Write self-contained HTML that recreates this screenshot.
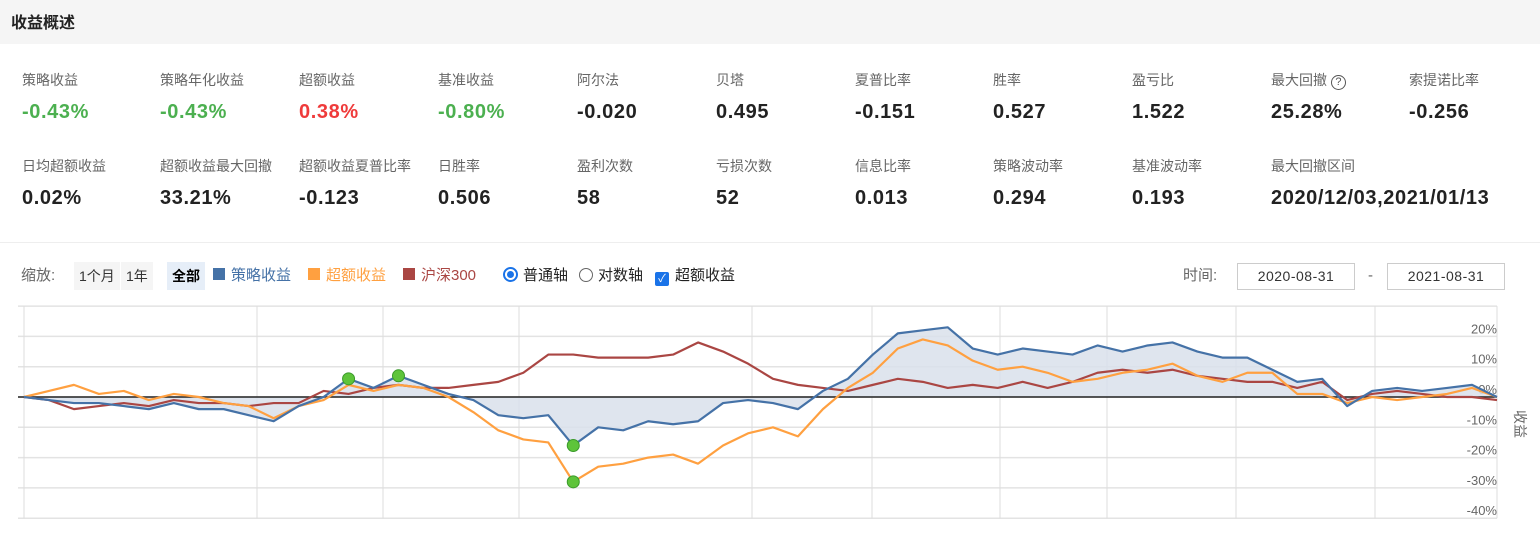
<!DOCTYPE html>
<html><head><meta charset="utf-8">
<style>
body{margin:0;width:1540px;height:540px;background:#fff;font-family:"Liberation Sans","Noto Sans CJK SC",sans-serif;position:relative;overflow:hidden;color:#333}
.hdr{position:absolute;left:0;top:0;width:1540px;height:44px;background:#f5f5f5}
.hdr span{position:absolute;left:11px;top:9px;font-size:16px;font-weight:bold;color:#222}
.m{position:absolute;width:139px}
.m .l{font-size:14px;color:#666;height:20px}
.m .v{font-size:20px;font-weight:bold;color:#222;margin-top:11px;white-space:nowrap;letter-spacing:0.6px}
.g{color:#4cb050!important}.r{color:#ef3b3b!important}
.sep{position:absolute;left:0;top:242px;width:1540px;height:1px;background:#eee}
.tb{position:absolute;top:263px;font-size:15px;line-height:26px;white-space:nowrap}
.btn{position:absolute;top:262px;height:28px;line-height:28px;font-size:14px;background:#f5f5f5;padding:0 5px}
.date{position:absolute;top:263px;width:116px;height:25px;border:1px solid #ccc;font-size:14px;line-height:25px;text-align:center;color:#333;letter-spacing:0.5px}
</style></head><body>
<div class="hdr"><span>收益概述</span></div>

<div class="m" style="left:22px;top:70px"><div class="l">策略收益</div><div class="v g">-0.43%</div></div>
<div class="m" style="left:160px;top:70px"><div class="l">策略年化收益</div><div class="v g">-0.43%</div></div>
<div class="m" style="left:299px;top:70px"><div class="l">超额收益</div><div class="v r">0.38%</div></div>
<div class="m" style="left:438px;top:70px"><div class="l">基准收益</div><div class="v g">-0.80%</div></div>
<div class="m" style="left:577px;top:70px"><div class="l">阿尔法</div><div class="v">-0.020</div></div>
<div class="m" style="left:716px;top:70px"><div class="l">贝塔</div><div class="v">0.495</div></div>
<div class="m" style="left:855px;top:70px"><div class="l">夏普比率</div><div class="v">-0.151</div></div>
<div class="m" style="left:993px;top:70px"><div class="l">胜率</div><div class="v">0.527</div></div>
<div class="m" style="left:1132px;top:70px"><div class="l">盈亏比</div><div class="v">1.522</div></div>
<div class="m" style="left:1271px;top:70px"><div class="l">最大回撤 <span style="display:inline-block;width:13px;height:13px;border:1.5px solid #555;border-radius:50%;font-size:11px;line-height:13px;text-align:center;color:#555">?</span></div><div class="v">25.28%</div></div>
<div class="m" style="left:1409px;top:70px"><div class="l">索提诺比率</div><div class="v">-0.256</div></div>

<div class="m" style="left:22px;top:156px"><div class="l">日均超额收益</div><div class="v">0.02%</div></div>
<div class="m" style="left:160px;top:156px"><div class="l">超额收益最大回撤</div><div class="v">33.21%</div></div>
<div class="m" style="left:299px;top:156px"><div class="l">超额收益夏普比率</div><div class="v">-0.123</div></div>
<div class="m" style="left:438px;top:156px"><div class="l">日胜率</div><div class="v">0.506</div></div>
<div class="m" style="left:577px;top:156px"><div class="l">盈利次数</div><div class="v">58</div></div>
<div class="m" style="left:716px;top:156px"><div class="l">亏损次数</div><div class="v">52</div></div>
<div class="m" style="left:855px;top:156px"><div class="l">信息比率</div><div class="v">0.013</div></div>
<div class="m" style="left:993px;top:156px"><div class="l">策略波动率</div><div class="v">0.294</div></div>
<div class="m" style="left:1132px;top:156px"><div class="l">基准波动率</div><div class="v">0.193</div></div>
<div class="m" style="left:1271px;top:156px;width:260px"><div class="l">最大回撤区间</div><div class="v">2020/12/03,2021/01/13</div></div>

<div class="sep"></div>

<div class="tb" style="left:21px;color:#666">缩放:</div>
<div class="btn" style="left:74px">1个月</div>
<div class="btn" style="left:121px">1年</div>
<div class="btn" style="left:167px;background:#e6eef8;font-weight:bold;color:#000">全部</div>
<div class="tb" style="left:213px;color:#4572a7"><span style="display:inline-block;width:12px;height:12px;background:#4572a7;margin-right:6px"></span>策略收益</div>
<div class="tb" style="left:308px;color:#ffa040"><span style="display:inline-block;width:12px;height:12px;background:#ffa040;margin-right:6px"></span>超额收益</div>
<div class="tb" style="left:403px;color:#aa4643"><span style="display:inline-block;width:12px;height:12px;background:#aa4643;margin-right:6px"></span>沪深300</div>
<div class="tb" style="left:503px;color:#222"><span style="display:inline-block;width:11px;height:11px;border:2px solid #1a73e8;border-radius:50%;vertical-align:-2px;margin-right:5px;position:relative"><span style="position:absolute;left:2px;top:2px;width:7px;height:7px;border-radius:50%;background:#1a73e8"></span></span>普通轴</div>
<div class="tb" style="left:579px;color:#222"><span style="display:inline-block;width:12px;height:12px;border:1px solid #666;border-radius:50%;vertical-align:-2px;margin-right:5px"></span>对数轴</div>
<div class="tb" style="left:655px;color:#222"><span style="display:inline-block;width:14px;height:14px;background:#1a73e8;border-radius:2px;vertical-align:-2px;margin-right:6px;color:#fff;font-size:11px;line-height:14px;text-align:center">✓</span>超额收益</div>
<div class="tb" style="left:1183px;color:#666">时间:</div>
<div class="date" style="left:1237px">2020-08-31</div>
<div class="tb" style="left:1368px;color:#666">-</div>
<div class="date" style="left:1387px">2021-08-31</div>

<svg id="chart" width="1540" height="540" style="position:absolute;left:0;top:0"></svg>
<script>
const categories = Array.from({length:60},(_,i)=>i);
const strategy = [0,-1,-2,-2,-3,-4,-2,-4,-4,-6,-8,-3,0,6,3,7,4,1,-1,-6,-7,-6,-16,-10,-11,-8,-9,-8,-2,-1,-2,-4,2,6,14,21,22,23,16,14,16,15,14,17,15,17,18,15,13,13,9,5,6,-3,2,3,2,3,4,0];
const excess = [0,2,4,1,2,-1,1,0,-2,-3,-7,-3,-1,4,2,4,3,0,-5,-11,-14,-15,-28,-23,-22,-20,-19,-22,-16,-12,-10,-13,-4,3,8,16,19,17,12,9,10,8,5,6,8,9,11,7,5,8,8,1,1,-2,0,-1,0,1,3,0];
const hs300 = [0,-1,-4,-3,-2,-3,-1,-2,-2,-3,-2,-2,2,1,3,4,3,3,4,5,8,14,14,13,13,13,14,18,15,11,6,4,3,2,4,6,5,3,4,3,5,3,5,8,9,8,9,7,6,5,5,3,5,-1,1,2,1,0,0,-1];
const yTicks = [20,10,0,-10,-20,-30,-40];
const markers = [{s:'strategy',i:13},{s:'strategy',i:15},{s:'strategy',i:22},{s:'excess',i:22}];
const NS='http://www.w3.org/2000/svg';
const svg=document.getElementById('chart');
const X0=24,X1=1497,Y0=397,PX=3.03;
const xs=i=>X0+(i-categories[0])*(X1-X0)/(categories.length-1);
const ys=v=>Y0-v*PX;
function mk(t,a){const e=document.createElementNS(NS,t);for(const k in a)e.setAttribute(k,a[k]);svg.appendChild(e);return e;}
[30,...yTicks].forEach(v=>{const l=mk('line',{x1:X0-6,x2:X1,y1:ys(v),y2:ys(v),stroke:'#e3e3e3','stroke-width':1.5});

});
[24,257,383,519,752,872,1000,1107,1236,1375,1497].forEach(x=>{const l=mk('line',{x1:x,x2:x,y1:ys(30),y2:ys(-40),stroke:'#ddd','stroke-width':1});

});
yTicks.forEach(v=>{const t=mk('text',{x:1497,y:ys(v)-3,'text-anchor':'end','font-size':13,fill:'#666','font-family':'Liberation Sans, sans-serif'});t.textContent=v+'%';

});
const yt=mk('text',{x:1515,y:410,'font-size':14,fill:'#666',transform:'rotate(90 1515 410)','font-family':'Noto Sans CJK SC, sans-serif'});yt.textContent='收益';


let d='M'+xs(0)+','+ys(0);strategy.forEach((v,i)=>d+='L'+xs(i)+','+ys(v));d+='L'+xs(strategy.length-1)+','+ys(0)+'Z';
const area=mk('path',{d:d,fill:'#d9e0eb',opacity:0.85});


const zl=mk('line',{x1:X0-6,x2:X1,y1:ys(0),y2:ys(0),stroke:'#222','stroke-width':1.5});


function line(arr,c,name){const p=mk('path',{d:arr.map((v,i)=>(i?'L':'M')+xs(i)+','+ys(v)).join(''),fill:'none',stroke:c,'stroke-width':2.2,'stroke-linejoin':'round'});

}
line(hs300,'#aa4643','hs300-line');
line(excess,'#ffa040','excess-line');
line(strategy,'#4572a7','strategy-line');
const S={strategy,excess};
markers.forEach(m=>{const c=mk('circle',{cx:xs(m.i),cy:ys(S[m.s][m.i]),r:6,fill:'#5ec43a',stroke:'#3a9a2a','stroke-width':1});

});
</script>
</body></html>
